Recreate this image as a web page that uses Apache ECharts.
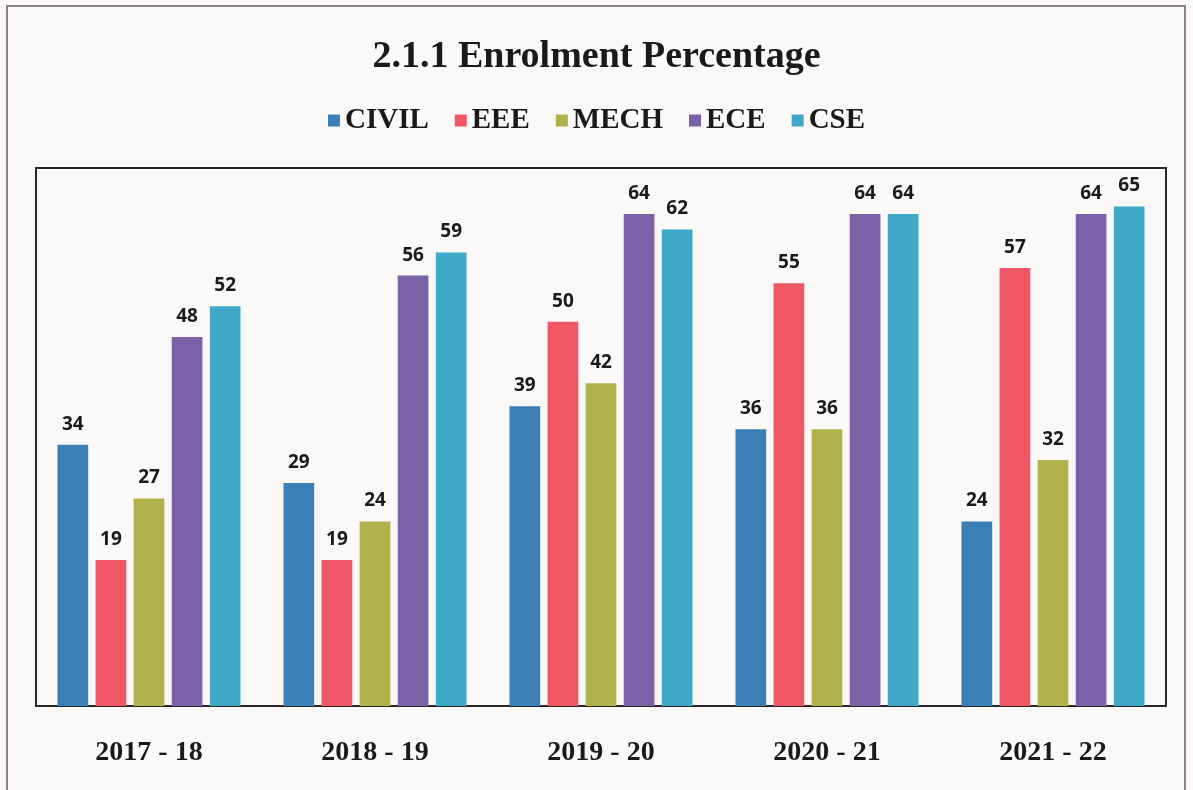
<!DOCTYPE html>
<html>
<head>
<meta charset="utf-8">
<script src="https://cdn.jsdelivr.net/npm/echarts@6/dist/echarts.min.js"></script>
<style>
  html, body { margin: 0; padding: 0; background: #fbf9f8; }
  .frame {
    position: absolute; left: 6px; top: 5px; width: 1180px; height: 800px;
    border: 2px solid #8a8282; box-sizing: border-box;
  }
  #chart { position: absolute; left: 0; top: 0; width: 1193px; height: 790px; }
</style>
</head>
<body>
<div class="frame"></div>
<div id="chart"></div>
<script>
const years = ['2017 - 18', '2018 - 19', '2019 - 20', '2020 - 21', '2021 - 22'];
const civil = [34, 29, 39, 36, 24];
const eee = [19, 19, 50, 55, 57];
const mech = [27, 24, 42, 36, 32];
const ece = [48, 56, 64, 64, 64];
const cse = [52, 59, 62, 64, 65];

const chart = echarts.init(document.getElementById('chart'));

// one entry per branch
const branches = [
  { name: 'CIVIL', data: civil, color: '#3b7fb7' },
  { name: 'EEE', data: eee, color: '#ee5763' },
  { name: 'MECH', data: mech, color: '#b2b14c' },
  { name: 'ECE', data: ece, color: '#7b61a8' },
  { name: 'CSE', data: cse, color: '#3fa8c7' }
];

chart.setOption({
  backgroundColor: 'transparent',
  title: {
    text: '2.1.1 Enrolment Percentage',
    left: 'center',
    top: 33,
    textStyle: {
      fontFamily: 'Liberation Serif',
      fontWeight: 'bold',
      fontSize: 38,
      color: '#1a1a1a'
    }
  },
  legend: {
    top: 101,
    left: 'center',
    itemWidth: 12,
    itemHeight: 12,
    itemGap: 26,
    icon: 'rect',
    textStyle: {
      fontFamily: 'Liberation Serif',
      fontWeight: 'bold',
      fontSize: 29,
      color: '#1a1a1a'
    },
    data: branches.map(b => b.name)
  },
  grid: {
    left: 36,
    right: 27,
    top: 168,
    bottom: 84,
    show: true,
    borderColor: '#2a2626',
    borderWidth: 2
  },
  xAxis: {
    type: 'category',
    data: years,
    axisLine: { lineStyle: { color: '#2a2626', width: 2 } },
    axisTick: { show: false },
    axisLabel: {
      margin: 33,
      fontFamily: 'Liberation Serif',
      fontWeight: 'bold',
      fontSize: 28,
      color: '#1a1a1a'
    }
  },
  yAxis: {
    type: 'value',
    min: 0,
    max: 70,
    show: false,
    splitLine: { show: false }
  },
  series: branches.map(b => ({
    name: b.name,
    type: 'bar',
    data: b.data,
    barGap: '24%',
    barCategoryGap: '19%',
    itemStyle: { color: b.color },
    label: {
      show: true,
      position: 'top',
      distance: 11,
      fontFamily: 'Open Sans',
      fontWeight: 'bold',
      fontSize: 19,
      color: '#1a1a1a'
    }
  }))
});
</script>
</body>
</html>
